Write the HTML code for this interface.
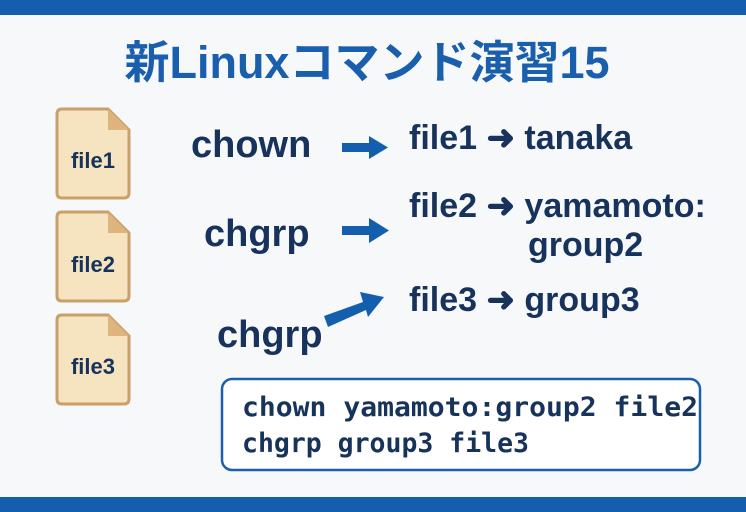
<!DOCTYPE html>
<html><head><meta charset="utf-8"><style>
body{margin:0;width:746px;height:512px;background:#f7f8fa;overflow:hidden}
svg{display:block}
</style></head><body>
<svg width="746" height="512" viewBox="0 0 746 512" xmlns="http://www.w3.org/2000/svg">
<rect width="746" height="512" fill="#f7f8fa"/>
<rect width="746" height="15" fill="#135fae"/>
<rect y="497" width="746" height="15" fill="#135fae"/>
<text x="367" y="78" text-anchor="middle" font-family="Liberation Sans, Noto Sans CJK JP, sans-serif" font-weight="bold" font-size="45" fill="#1a5fae">新Linuxコマンド演習15</text>
<g font-family="Liberation Sans, sans-serif" font-weight="bold" fill="#17335c">
<g stroke="#c9a06a" stroke-width="3" fill="#f6e4c0">
<path d="M62 109 H108 L129 130 V193 Q129 198 124 198 H62 Q57 198 57 193 V114 Q57 109 62 109Z"/>
<path d="M62 212 H108 L129 233 V296 Q129 301 124 301 H62 Q57 301 57 296 V217 Q57 212 62 212Z"/>
<path d="M62 315 H108 L129 336 V399 Q129 404 124 404 H62 Q57 404 57 399 V320 Q57 315 62 315Z"/>
</g>
<g fill="#dcb47c"><path d="M108 109 V130 H129Z"/><path d="M108 212 V233 H129Z"/><path d="M108 315 V336 H129Z"/></g>
<text x="93" y="168" text-anchor="middle" font-size="22">file1</text>
<text x="93" y="272" text-anchor="middle" font-size="22">file2</text>
<text x="93" y="374" text-anchor="middle" font-size="22">file3</text>
<text x="191" y="157" font-size="38">chown</text>
<text x="204" y="246" font-size="38">chgrp</text>
<text x="217" y="347" font-size="38">chgrp</text>
<text x="409" y="149" font-size="34">file1 ➜ tanaka</text>
<text x="409" y="217" font-size="34">file2 ➜ yamamoto:</text>
<text x="528" y="256" font-size="34">group2</text>
<text x="409" y="311" font-size="34">file3 ➜ group3</text>
</g>
<g fill="#135fae">
<rect x="342" y="143" width="30" height="9"/><path d="M369 136 L388 147.5 L369 159Z"/>
<rect x="342" y="226" width="30" height="9"/><path d="M369 218 L389 230.5 L369 243Z"/>
<path d="M324 316 L363 302 L360 292 L384 297 L368 317 L366 310 L328 327Z"/>
</g>
<rect x="222" y="379" width="478" height="91" rx="10" fill="#fff" stroke="#1d5fae" stroke-width="2.5"/>
<g font-family="DejaVu Sans Mono, Liberation Mono, monospace" font-size="27" font-weight="bold" fill="#17335c">
<text x="242" y="416" textLength="456" lengthAdjust="spacingAndGlyphs">chown yamamoto:group2 file2</text>
<text x="242" y="452" textLength="287" lengthAdjust="spacingAndGlyphs">chgrp group3 file3</text>
</g>
</svg>
</body></html>
